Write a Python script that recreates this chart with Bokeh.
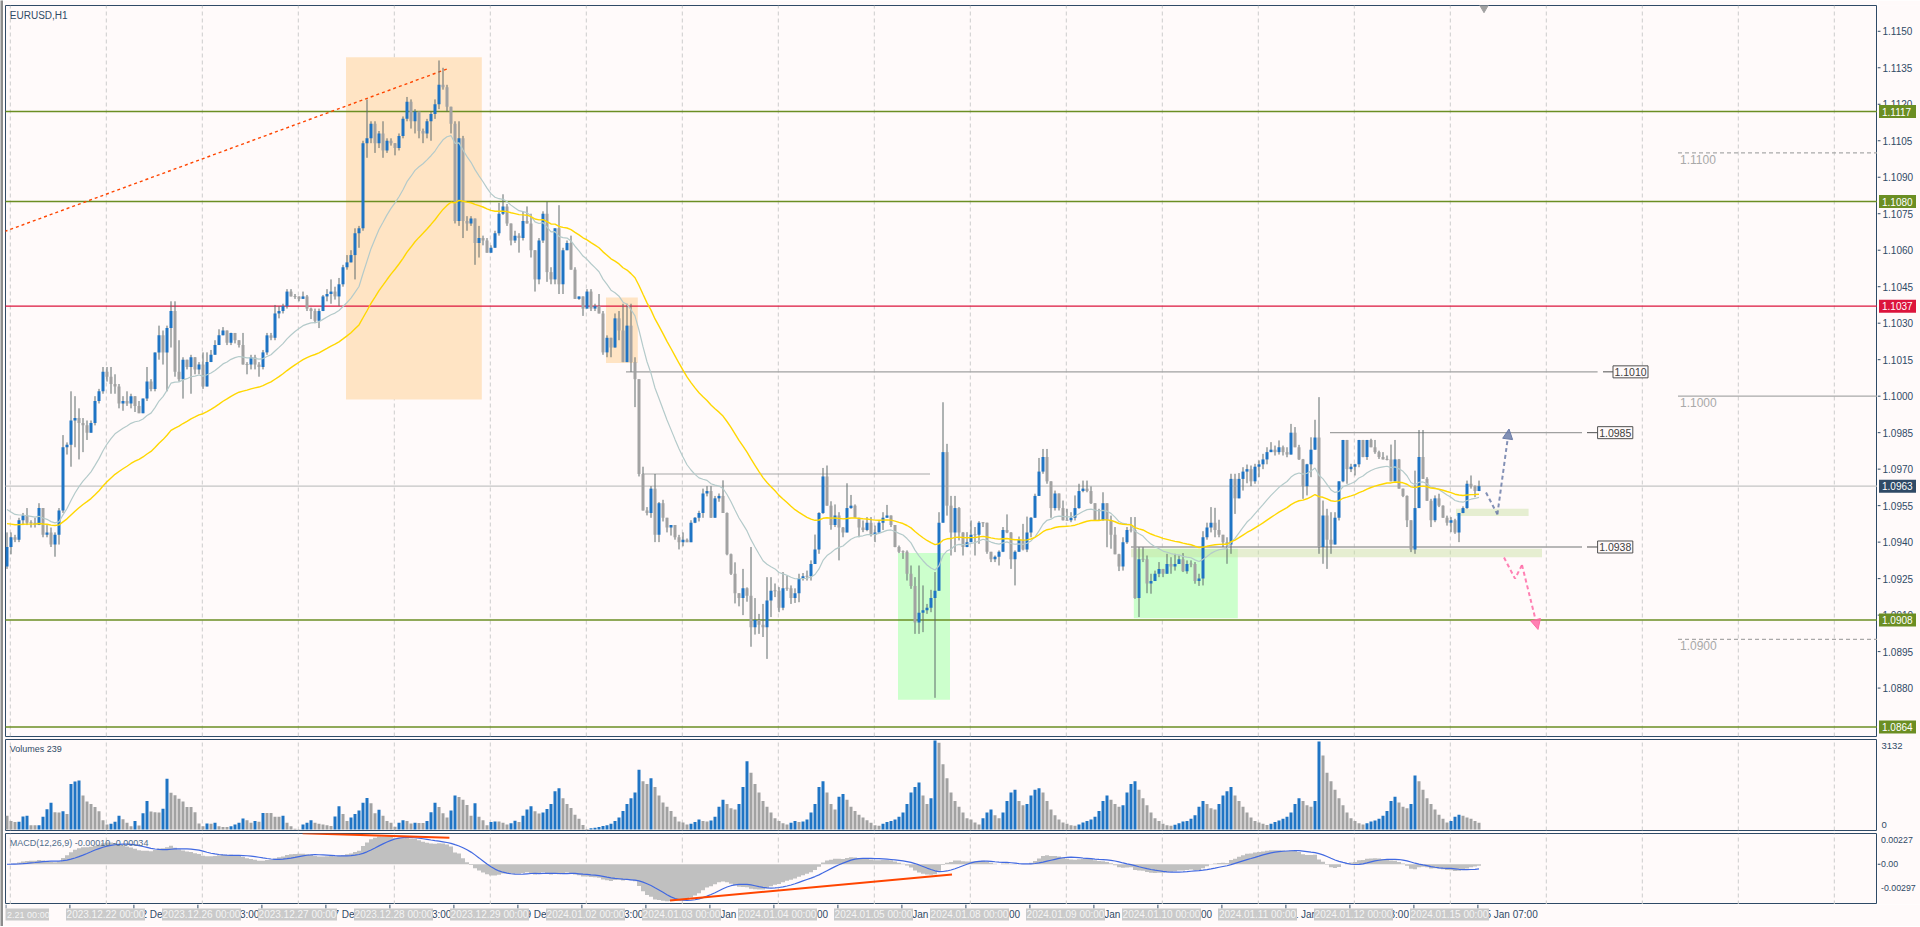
import numpy as np
from datetime import datetime, timedelta
from bokeh.plotting import figure
from bokeh.layouts import column, row
from bokeh.models import Range1d, Arrow, NormalHead
from bokeh.core.properties import value
from bokeh.embed import file_html
from bokeh.resources import INLINE

# ---------------------------------------------------------------- data
TITLE = "EURUSD,H1"
VOL_TITLE = "Volumes 239"
MACD_TITLE = "MACD(12,26,9) -0.00010 -0.00034"
FIRST_BAR_TIME = "2023-12-20 23:00"
TRADING_DAYS = ["2023-12-21", "2023-12-22", "2023-12-26", "2023-12-27", "2023-12-28",
                "2023-12-29", "2024-01-02", "2024-01-03", "2024-01-04", "2024-01-05",
                "2024-01-08", "2024-01-09", "2024-01-10", "2024-01-11", "2024-01-12",
                "2024-01-15"]
DAY_TAGS = ["2.21 00:00", "2023.12.22 00:00", "2023.12.26 00:00", "2023.12.27 00:00",
            "2023.12.28 00:00", "2023.12.29 00:00", "2024.01.02 00:00", "2024.01.03 00:00",
            "2024.01.04 00:00", "2024.01.05 00:00", "2024.01.08 00:00", "2024.01.09 00:00",
            "2024.01.10 00:00", "2024.01.11 00:00", "2024.01.12 00:00", "2024.01.15 00:00"]

# prices in points: price = 1 + pts / 10000
OPEN0 = 930
CLOSE = [
    938, 942, 941, 949, 951, 948, 948, 947, 954, 943,
    944, 939, 943, 953, 979, 980, 990, 991, 989, 988,
    985, 989, 998, 1002, 1010, 1008, 1005, 1004, 997, 998,
    997, 1000, 996, 993, 999, 1006, 1003, 1018, 1025, 1018,
    1028, 1035, 1010, 1007, 1015, 1012, 1016, 1011, 1013, 1004,
    1014, 1017, 1021, 1025, 1027, 1022, 1026, 1023, 1021, 1013,
    1013, 1016, 1013, 1012, 1018, 1025, 1024, 1034, 1035, 1037,
    1043, 1041, 1041, 1040, 1041, 1036, 1035, 1031, 1035, 1041,
    1042, 1043, 1041, 1046, 1053, 1055, 1058, 1067, 1069,
    1104, 1106, 1112, 1104, 1108, 1101, 1105, 1104, 1102, 1107,
    1114, 1121, 1113, 1117, 1109, 1108, 1113, 1116, 1120, 1128,
    1127, 1119, 1112, 1072, 1106, 1072, 1071,
    1073, 1063, 1065, 1064, 1059, 1061, 1067, 1075, 1078, 1071,
    1064, 1066, 1065, 1072, 1071, 1060, 1048, 1064, 1075, 1051,
    1048, 1069, 1046, 1060, 1063, 1052, 1040, 1041, 1036, 1043,
    1036, 1037, 1034, 1018, 1024, 1020, 1032, 1027, 1014, 1029,
    1014, 1007, 968, 953, 952, 962, 943, 956, 950, 946,
    947, 942, 940, 941, 940, 948, 950, 952, 960, 961,
    950, 958, 959, 952, 935, 927, 919, 917, 921, 918,
    905,
    908, 906, 905, 916, 920, 920, 913, 921, 921, 917,
    919, 925, 926, 926, 931, 937, 952, 967, 955, 947,
    951, 946, 944, 954, 955, 950, 946, 945, 948, 943,
    944, 948, 950, 951, 947, 938, 936, 936, 927, 922,
    907, 911, 912, 913, 917, 920, 948, 977, 955, 944,
    954, 944, 938, 940, 943, 943, 948, 948, 936, 933,
    934, 936, 945, 944, 933, 936, 941, 937, 944, 950,
    959, 969, 975, 965, 954, 960, 954, 949, 949, 950,
    954, 961, 962, 961, 956, 949, 949, 956, 949, 943,
    935, 930,
    940, 945, 945, 917, 933, 933, 923, 924, 927, 929,
    927, 931, 930, 931, 933, 928, 931, 931, 924, 925,
    942, 946, 948, 945, 943, 940, 939, 966, 958, 966,
    969, 970, 965, 971, 972, 974, 977, 978, 977, 979,
    977, 976, 985, 979, 974, 963, 972, 978, 983, 938,
    951, 941, 939, 950, 965, 982, 970, 971, 972, 982,
    975, 982, 979, 977, 975, 974, 974, 965, 974, 962,
    959, 949, 937, 954, 975, 966, 957, 949, 958, 955,
    950, 948, 949, 944, 952, 954, 964, 963, 961, 963]
HIGH = [
    944, 944, 943, 950, 952, 954, 949, 950, 956, 954,
    947, 946, 944, 954, 984, 981, 1002, 1000, 995, 991,
    990, 990, 1000, 1003, 1012, 1012, 1012, 1009, 1005, 1000,
    1002, 1001, 1000, 998, 999, 1012, 1007, 1018, 1029, 1027,
    1029, 1039, 1039, 1023, 1016, 1015, 1017, 1015, 1014, 1018,
    1018, 1019, 1023, 1027.5, 1028.4, 1027, 1026.1, 1025, 1023, 1026,
    1014, 1017, 1017, 1014, 1019, 1026, 1026, 1037.5, 1037, 1038,
    1044, 1044, 1042, 1041, 1043, 1041.6, 1036.4, 1036, 1036, 1041.6,
    1044, 1048, 1045, 1048.6, 1054, 1058, 1060, 1069, 1070,
    1105, 1122, 1113, 1113, 1109, 1113, 1106, 1106, 1104, 1108,
    1115, 1123, 1122, 1118, 1117, 1110, 1114, 1117, 1122, 1138,
    1135, 1128, 1119, 1113, 1113, 1107, 1074,
    1074, 1073, 1070, 1066, 1065, 1062, 1068, 1079.5, 1083, 1079,
    1071, 1068, 1067, 1076, 1078, 1075, 1060, 1065, 1076, 1080,
    1053, 1069, 1078.5, 1061, 1064, 1066, 1053, 1041, 1041, 1044,
    1044, 1038, 1042, 1035, 1025, 1023, 1034, 1035, 1038, 1038,
    1038, 1016, 1007, 971, 954.4, 963, 968, 956.5, 957.4, 950,
    947, 945.6, 943, 944, 941.5, 949, 950.3, 952.9, 962, 963,
    963, 959, 960, 965.4, 952.2, 935.3, 931.7, 918.4, 929, 921.4,
    938,
    917, 910.5, 914.6, 925.6, 925.6, 923, 921.5, 927.7, 926.3, 922.2,
    921, 927, 927.3, 928.3, 932.5, 943.1, 952.3, 970.5, 971.5, 956.8,
    955.5, 952.3, 946.2, 964.2, 959.4, 955.5, 950, 948.9, 950.3, 950.3,
    946.8, 948.6, 952.3, 955.3, 950.9, 946.4, 938.6, 936.6, 936.6, 930.4,
    925.6, 930.4, 922.2, 914.6, 920.4, 927.7, 952.3, 997.5, 980.4, 959,
    959, 954.4, 944.1, 944.1, 948.9, 946.2, 948.6, 948.2, 947.5, 935.9,
    934.5, 936.6, 946.2, 951.4, 944.1, 936.6, 942.3, 947.5, 950.5, 950.3,
    959.9, 974.6, 978.3, 978.3, 964.9, 961.2, 959.9, 957.1, 953.7, 952.3,
    959.2, 964, 965.3, 965.3, 962.9, 955.7, 953.7, 960.5, 955.7, 950.9,
    946.2, 935.2,
    942, 946.2, 950.3, 950.3, 937.9, 937.9, 934.5, 927, 928.3, 931.8,
    928.3, 935.2, 933.8, 935.2, 934.5, 935.5, 932.5, 932.5, 931.8, 927,
    944.5, 948, 954.4, 954.1, 949.2, 943, 942, 968.1, 968.1, 968.4,
    970.8, 971.9, 971.5, 972.2, 973.6, 976.3, 979, 981.1, 979.7, 981.8,
    979.7, 979, 988.6, 987.3, 980, 974.2, 972.2, 983.1, 990.3, 999.6,
    957.1, 953.7, 952.3, 952.3, 964.6, 982, 982, 972.2, 972.2, 982,
    982, 982, 982.5, 982, 977.6, 977, 975.6, 980.1, 982, 974.2,
    961.9, 959.2, 948.6, 969.4, 986.1, 986.1, 966.7, 957.8, 959.2, 959.9,
    955.1, 950.9, 950.3, 949.6, 951.9, 954.7, 965.3, 967.4, 963.3, 965.3]
LOW = [
    929, 935, 940, 940, 947, 947, 946, 946, 947, 942,
    942, 938, 934, 939, 952, 976, 971, 979, 974, 977,
    982, 985, 988, 997, 1001, 1006, 1001, 1001, 995, 994,
    996, 995, 993.5, 993, 996, 998, 1002, 1002, 1015, 1013,
    1002, 1020, 1008, 1006, 999, 1011, 1001, 1009, 1009, 1003,
    1004, 1016, 1017, 1022, 1025, 1021, 1021, 1021.7, 1020, 1013,
    1009, 1011, 1011, 1008, 1011, 1017, 1023, 1023, 1032, 1034,
    1036, 1041, 1040, 1039, 1040.8, 1035, 1031.7, 1030, 1028, 1036,
    1039, 1038, 1039.7, 1037, 1045, 1052, 1055, 1048, 1061,
    1068, 1098, 1104, 1100, 1102, 1098, 1100, 1103, 1099, 1101,
    1106, 1113, 1110, 1108, 1106, 1104, 1106, 1105, 1114, 1118,
    1126, 1117, 1108, 1071, 1070, 1065, 1068,
    1070, 1054, 1057, 1062, 1059, 1059, 1061, 1066, 1074.5, 1070,
    1062, 1063, 1059, 1064, 1071, 1057, 1043, 1046, 1063, 1047,
    1046, 1046, 1042, 1042, 1060, 1052, 1040, 1039.6, 1033, 1036,
    1035, 1035, 1034, 1017, 1016, 1016, 1020, 1023, 1014, 1014,
    1010, 995.5, 967, 953, 951, 950, 940, 940, 948.5, 944,
    942.7, 941, 937, 938.3, 940, 940, 947.8, 948.5, 950, 958.8,
    950, 950, 956.6, 952, 934.6, 926.5, 914.8, 913.6, 910, 915.5,
    897,
    902, 902.3, 901, 892, 909.2, 917.4, 911.2, 912, 920, 914.6,
    915, 915.3, 924.2, 924.2, 924.2, 931.1, 935.2, 951.6, 955, 945.1,
    946.2, 932.5, 942, 944.1, 953.7, 950, 942, 944.1, 944.5, 942.3,
    940, 944.1, 945, 950, 946.2, 937.9, 935.5, 933.1, 924.2, 920.8,
    902.3, 902.3, 903, 910.5, 911.2, 876, 920.8, 948, 950.9, 934.5,
    935.9, 940.7, 934.5, 937.9, 940.7, 934.5, 939.3, 946.2, 935.2, 931.8,
    931.8, 930.4, 935.9, 943.7, 929, 922.2, 936.6, 936.6, 935.9, 942,
    950.3, 959.2, 968.1, 964, 950, 953, 953, 948.9, 948.9, 948.2,
    948.9, 953.7, 960.5, 960.5, 955.7, 948.9, 948.9, 948.9, 937.9, 937.3,
    935.2, 928.1,
    928.3, 939.3, 944, 916.7, 909.2, 931.8, 919, 918.8, 924.2, 925.6,
    925.6, 927, 927, 928.3, 931.8, 927.7, 927, 929.7, 922.9, 922,
    922.2, 941, 944, 942, 942, 938, 931.1, 935.2, 951.6, 958.2,
    961.2, 964.2, 963, 964, 966.7, 970, 972, 977, 975.6, 976,
    975.6, 974.9, 976, 979, 973.8, 957.8, 959.2, 966.7, 978.3, 935.2,
    931.1, 929, 935.2, 942, 948.9, 964.6, 964, 968.8, 967.4, 970.8,
    974.9, 973.8, 979, 976.3, 974.2, 974.2, 973.6, 965, 965, 962.3,
    958.5, 946.2, 935.9, 935.2, 954, 966, 957.1, 946.2, 948.2, 954.4,
    950, 946.8, 944.1, 943.4, 940, 951.9, 953.7, 962, 958.5, 962.6]
VOLUME = [
    485, 298, 261, 274, 460, 485, 149, 149, 150, 448,
    709, 945, 609, 600, 646, 547, 1604, 1691, 1728, 1193,
    982, 895, 796, 646, 323, 174, 199, 274, 485, 361,
    236, 112, 298, 137, 572, 1007, 634, 609, 600, 734,
    1790, 1293, 1206, 1082, 982, 796, 790, 609, 211, 112,
    211, 205, 236, 112, 87, 85, 112, 174, 236, 385,
    323, 236, 298, 274, 584, 584, 580, 448, 445, 485,
    236, 112, 25, 10, 174, 236, 323, 236, 199, 174,
    149, 124, 460, 820, 547, 298, 423, 547, 671, 945,
    1107, 920, 572, 696, 485, 298, 236, 100, 236, 323,
    298, 211, 236, 230, 225, 298, 609, 945, 796, 572,
    423, 671, 1193, 1144, 1045, 858, 485, 920, 448, 323,
    149, 261, 286, 280,
    240, 180, 220, 310, 260, 480, 700, 820, 640, 560, 600, 720, 900, 1350, 1450, 1100,
    900, 760, 520, 380, 160,
    20, 40, 60, 90, 120, 150, 200, 300, 420, 650, 900, 1100, 1300, 2100, 1700, 1600,
    1800, 1500, 1200, 950, 800, 650, 450, 280,
    250, 180, 200, 260, 350, 300, 280, 320, 450, 800, 1050, 900, 750, 700, 900, 1500,
    2400, 2000, 1600, 1300, 1000, 800, 600, 400,
    300, 220, 180, 240, 300, 260, 280, 350, 600, 900, 1500, 1700, 1300, 900, 700, 1150,
    1250, 1050, 800, 650, 520, 420, 330, 240,
    150, 130, 200, 260, 300, 350, 450, 600, 900, 1300, 1500, 1650, 1200, 900, 1100, 3132,
    3050, 2300, 1800, 1300, 1000, 800, 600, 400,
    350, 250, 180, 400, 600, 700, 500, 400, 600, 1000, 1300, 1400, 1000, 850, 900, 1200,
    1400, 1450, 1300, 1000, 700, 500, 350, 250,
    200, 150, 130, 180, 250, 300, 350, 450, 650, 1000, 1200, 1050, 900, 800, 850, 1300,
    1600, 1700, 1400, 1100, 850, 600, 400, 300,
    200, 150, 130, 170, 220, 280, 300, 380, 500, 800, 1000, 900, 750, 700, 900, 1200,
    1350, 1500, 1200, 1000, 800, 600, 420, 300,
    250, 200, 160, 200, 260, 320, 380, 450, 600, 900, 1100, 1000, 850, 800, 1000, 3100,
    2600, 2000, 1700, 1400, 1100, 850, 600, 400,
    300, 220, 180, 220, 280, 320, 380, 480, 650, 1000, 1150, 950, 800, 750, 900, 1900,
    1700, 1400, 1100, 900, 700, 520, 380, 250,
    300, 450, 520, 480, 420, 380, 300, 239]

MA_FAST_PERIOD, MA_SLOW_PERIOD = 21, 50          # exponential moving averages
MA_FAST_START, MA_SLOW_START = 1.0955, 1.0948    # values read at the first bar

GREEN_LEVELS = [1.1117, 1.1080, 1.0908, 1.0864]
RED_LEVEL = 1.1037
LAST_PRICE = 1.0963
AXIS_TICKS = [1.0880 + 0.0015 * k for k in range(19)]
MARKED_LEVELS = [1.1010, 1.0985, 1.0938]
ROUND_LEVELS = [1.1100, 1.1000, 1.0900]
SIDE_LEVEL = 1.0968
VOL_AXIS = [3132, 0]
MACD_AXIS = [0.00227, 0.0, -0.00297]

# ---------------------------------------------------------------- styles / layout
FONT = "Liberation Sans"
BG = "#FFFAFA"
FRAME = "#2F4A66"
TXT = "#2F4A66"
BULL = "#1F74C4"
BEAR = "#A2A2A2"
WICK = "#5E6A6A"
GRID = "#CCCCCC"
OLIVE = "#6B8E23"
CRIMSON = "#DC143C"
CURTAG = "#2F4A66"
ORANGE = "#FF4500"

N = len(CLOSE)
W_LEFT = 3
PAD_L = 2
W_FRAME, W_AXIS = 1872, 43
TOP = 5
H_MAIN, H_VOL, H_MACD, H_X = 731, 91, 71, 22
GAP = 3
XS = -0.375
XE = XS + W_FRAME / 4.0
YTOP, YBOT = 1.11606, 1.08601
DPM = (YTOP - YBOT) / H_MAIN
VTOP, VBOT = 3167, -35
DPV = (VTOP - VBOT) / H_VOL
MTOP, MBOT = 0.00227, -0.00297
DPD = (MTOP - MBOT) / H_MACD

t0 = datetime.strptime(FIRST_BAR_TIME, "%Y-%m-%d %H:%M")


def bar_time(i):
    if i == 0:
        return t0
    d, h = divmod(i - 1, 24)
    return datetime.strptime(TRADING_DAYS[d], "%Y-%m-%d") + timedelta(hours=h)


def mt4_label(t):
    if t.hour == 0:
        return f"{t.day} {t.strftime('%b')} {t.year}"
    return f"{t.day} {t.strftime('%b')} {t.strftime('%H:%M')}"


def pr(a):
    return 1.0 + np.asarray(a, dtype=float) / 10000.0


x = np.arange(N, dtype=float)
c = pr(CLOSE)
o = pr([OPEN0] + CLOSE[:-1])
hi = np.maximum(pr(HIGH), np.maximum(o, c))
lo = np.minimum(pr(LOW), np.minimum(o, c))
btop = np.maximum(o, c)
bbot = np.minimum(o, c)
small = (btop - bbot) < DPM
mid = (btop + bbot) / 2
btop = np.where(small, mid + DPM * 0.5, btop)
bbot = np.where(small, mid - DPM * 0.5, bbot)
ccol = [BULL if c[i] > o[i] else BEAR for i in range(N)]


def ema(arr, n, seed=None):
    k = 2.0 / (n + 1)
    out = np.empty_like(arr)
    prev = arr[0] if seed is None else seed
    for i in range(len(arr)):
        prev = k * arr[i] + (1 - k) * prev
        out[i] = prev
    return out


def sma_padded(arr, n, start):
    a = np.concatenate([np.full(n - 1, start), arr])
    return np.convolve(a, np.ones(n) / n, mode="valid")


ma_fast = ema(c, MA_FAST_PERIOD, MA_FAST_START)
ma_slow = ema(c, MA_SLOW_PERIOD, MA_SLOW_START)
macd = ema(c, 12) - ema(c, 26)
signal = sma_padded(macd, 9, 0.0)
vol = np.array(VOLUME, dtype=float)
vcol = [BEAR] + [BULL if vol[i] > vol[i - 1] else BEAR for i in range(1, N)]


def mk(w, h, xr, yr, left=0, top=0, bottom=0, outline=True, bg=BG):
    f = figure(width=w, height=h, x_range=xr, y_range=yr, output_backend="svg",
               toolbar_location=None, tools="", x_axis_location=None, y_axis_location=None,
               min_border_left=left, min_border_right=0, min_border_top=top,
               min_border_bottom=bottom)
    f.grid.visible = False
    f.background_fill_color = bg
    f.border_fill_color = bg
    f.outline_line_color = FRAME if outline else None
    f.outline_line_width = 1
    return f


def txt(f, xs, ys, texts, size="9px", color=TXT, align="left", baseline="middle"):
    f.text(x=list(xs), y=list(ys), text=list(texts), text_font=value(FONT),
           text_font_size=size, text_color=color, text_align=align, text_baseline=baseline)


xr = Range1d(XS, XE)
grid_x = [0.825 + 24 * k for k in range(20)]

# ---------------------------------------------------------------- main panel
main = mk(PAD_L + W_FRAME, TOP + H_MAIN + GAP, xr, Range1d(YBOT, YTOP),
          left=PAD_L, top=TOP, bottom=GAP)
for gx in grid_x:
    main.segment(x0=gx, y0=YBOT, x1=gx, y1=YTOP, line_color=GRID, line_dash="4 3", line_width=1)

main.quad(left=[84.75, 149.75], right=[118.7, 157.7], bottom=[1.09986, 1.10136],
          top=[1.11393, 1.10406], fill_color="#FFE4C4", line_color=None)
main.quad(left=[222.75, 281.7], right=[235.75, 307.7], bottom=[1.08752, 1.09087],
          top=[1.09355, 1.09373], fill_color="#CCFFCC", line_color=None)
main.quad(left=[281.0, 362.25], right=[383.75, 380.4], bottom=[1.09338, 1.09507],
          top=[1.09373, 1.09537], fill_color="#C8E0A0", fill_alpha=0.45, line_color=None)

for lv in GREEN_LEVELS:
    main.segment(x0=XS - 5, y0=lv, x1=XE + 5, y1=lv, line_color=OLIVE, line_width=1.4)
main.segment(x0=XS - 5, y0=RED_LEVEL, x1=XE + 5, y1=RED_LEVEL, line_color=CRIMSON, line_width=1.4)
main.segment(x0=XS - 5, y0=LAST_PRICE, x1=XE + 5, y1=LAST_PRICE, line_color="#C4C4C4", line_width=1.2)
main.segment(x0=158.9, y0=SIDE_LEVEL, x1=230.75, y1=SIDE_LEVEL, line_color="#A8A8A8", line_width=1.2)

m_start = [154.75, 330.75, 281.0]
m_end = [397.65, 393.75, 393.75]
m_tick = [(399.0, 401.5), (395.0, 397.65), (395.0, 397.65)]
m_box = [(401.5, 410.25), (397.65, 406.45), (397.65, 406.45)]
for lv, s, e, tk, bx in zip(MARKED_LEVELS, m_start, m_end, m_tick, m_box):
    main.segment(x0=s, y0=lv, x1=e, y1=lv, line_color="#A0A0A0", line_width=1.3)
    main.segment(x0=tk[0], y0=lv, x1=tk[1], y1=lv, line_color="#505050", line_width=1)
    main.quad(left=bx[0], right=bx[1], bottom=lv - 6 * DPM, top=lv + 6 * DPM,
              fill_color=BG, line_color="#505050", line_width=1)
    txt(main, [(bx[0] + bx[1]) / 2], [lv], [f"{lv:.4f}"], size="10.5px", color="#404040",
        align="center")

for lv in ROUND_LEVELS:
    dash = "solid" if abs(lv - 1.1) < 1e-9 else "4 3"
    main.segment(x0=417.75, y0=lv, x1=XE + 5, y1=lv, line_color="#A9A9A9",
                 line_width=1.2, line_dash=dash)
    txt(main, [418.25], [lv - 2 * DPM], [f"{lv:.4f}"], size="12px", color="#A9A9A9",
        baseline="top")

tl_x = [-0.25, 110.0]
tl_y = [1.10679, 1.11345]
sl = (tl_y[1] - tl_y[0]) / (tl_x[1] - tl_x[0])
main.line([-2, 110.0], [tl_y[0] + sl * (-2 - tl_x[0]), tl_y[1]], line_color=ORANGE,
          line_width=1.4, line_dash="3 3")

main.segment(x0=x, y0=lo, x1=x, y1=hi, line_color=WICK, line_width=1)
main.vbar(x=x, width=0.75, top=btop, bottom=bbot, fill_color=ccol, line_color=None)

main.line(x, ma_fast, line_color="#B4CACA", line_width=1.2)
main.line(x, ma_slow, line_color="#FFD700", line_width=1.4)

blue_x = [369.75, 372.6, 375.5]
blue_y = [1.09604, 1.09514, 1.09865]
pink_x = [374.25, 377.0, 378.75, 382.75]
pink_y = [1.09337, 1.09250, 1.09306, 1.09041]
AB, AP = "#6C7CA8", "#FF6AA6"
main.line(blue_x[:2], blue_y[:2], line_color=AB, line_width=2, line_dash="4 3", line_alpha=0.85)
main.add_layout(Arrow(end=NormalHead(size=10, fill_color=AB, line_color=AB, fill_alpha=0.85),
                      x_start=blue_x[1], y_start=blue_y[1], x_end=blue_x[2], y_end=blue_y[2],
                      line_color=AB, line_width=2, line_dash="4 3", line_alpha=0.85))
main.line(pink_x[:3], pink_y[:3], line_color=AP, line_width=2, line_dash="4 3", line_alpha=0.85)
main.add_layout(Arrow(end=NormalHead(size=10, fill_color=AP, line_color=AP, fill_alpha=0.85),
                      x_start=pink_x[2], y_start=pink_y[2], x_end=pink_x[3], y_end=pink_y[3],
                      line_color=AP, line_width=2, line_dash="4 3", line_alpha=0.85))

main.scatter([369.25], [YTOP - 2 * DPM], marker="inverted_triangle", size=9,
             fill_color="#A0A0A0", line_color="#A0A0A0")
txt(main, [0.7], [YTOP - 4 * DPM], [TITLE], size="10px", baseline="top")

main_ax = mk(W_AXIS, TOP + H_MAIN + GAP, Range1d(0, W_AXIS), main.y_range,
             top=TOP, bottom=GAP, outline=False)
main_ax.segment(x0=[0] * len(AXIS_TICKS), y0=AXIS_TICKS, x1=[3] * len(AXIS_TICKS),
                y1=AXIS_TICKS, line_color=TXT, line_width=1)
txt(main_ax, [5] * len(AXIS_TICKS), AXIS_TICKS, [f"{t:.4f}" for t in AXIS_TICKS], size="10px")
tags = [(1.1117, OLIVE), (1.1080, OLIVE), (1.1037, CRIMSON), (LAST_PRICE, CURTAG),
        (1.0908, OLIVE), (1.0864, OLIVE)]
for lv, col in tags:
    main_ax.quad(left=1.5, right=38.5, bottom=lv - 6.5 * DPM, top=lv + 6.5 * DPM,
                 fill_color=col, line_color=None)
    txt(main_ax, [4.5], [lv], [f"{lv:.4f}"], color="white", size="10px")

# ---------------------------------------------------------------- volume panel
volf = mk(PAD_L + W_FRAME, H_VOL + GAP, xr, Range1d(VBOT, VTOP), left=PAD_L, bottom=GAP)
for gx in grid_x:
    volf.segment(x0=gx, y0=VBOT, x1=gx, y1=VTOP, line_color=GRID, line_dash="4 3", line_width=1)
volf.vbar(x=x, width=0.75, top=vol, bottom=0, fill_color=vcol, line_color=None)
txt(volf, [0.7], [VTOP - 4 * DPV], [VOL_TITLE], baseline="top")
vol_ax = mk(W_AXIS, H_VOL + GAP, Range1d(0, W_AXIS), volf.y_range, bottom=GAP, outline=False)
txt(vol_ax, [4, 4], [VTOP - 6.7 * DPV, VBOT + 6 * DPV], [str(VOL_AXIS[0]), str(VOL_AXIS[1])],
    size="9.5px")

# ---------------------------------------------------------------- MACD panel
macf = mk(PAD_L + W_FRAME, H_MACD, xr, Range1d(MBOT, MTOP), left=PAD_L)
for gx in grid_x:
    macf.segment(x0=gx, y0=MBOT, x1=gx, y1=MTOP, line_color=GRID, line_dash="4 3", line_width=1)
macf.vbar(x=x, width=1.0, top=macd, bottom=0, fill_color="#C0C0C0", line_color=None)
macf.line(x, signal, line_color="#4169E1", line_width=1.2)
macf.line([73.9, 110.6], [0.002295, 0.00196], line_color=ORANGE, line_width=2)
macf.line([165.75, 236.25], [-0.00267, -0.00075], line_color=ORANGE, line_width=2)
txt(macf, [0.7], [MTOP - 4.5 * DPD], [MACD_TITLE], color="#4F6D8C", baseline="top")
mac_ax = mk(W_AXIS, H_MACD, Range1d(0, W_AXIS), macf.y_range, outline=False)
mac_ax.segment(x0=[0], y0=[0.0], x1=[3], y1=[0.0], line_color=TXT)
txt(mac_ax, [3.5, 3.5, 3.5], [MTOP - 6 * DPD, 0.0, MTOP - 54.7 * DPD],
    [f"{MACD_AXIS[0]:.5f}", "0.00", f"{MACD_AXIS[2]:.5f}"], size="8.8px")

# ---------------------------------------------------------------- time strip
W_STRIP = PAD_L + W_FRAME + W_AXIS
xs_f = mk(W_STRIP, H_X, Range1d(XS, XS + (W_STRIP - PAD_L) / 4.0), Range1d(0, H_X),
          left=PAD_L, outline=False)
tick_bars = list(range(0, N, 16))
tx = [b - 0.275 for b in tick_bars]
xs_f.segment(x0=tx, y0=[H_X] * len(tx), x1=tx, y1=[H_X - 4] * len(tx), line_color=TXT)
txt(xs_f, [t + 0.5 for t in tx[1:]], [H_X - 10] * (len(tx) - 1),
    [mt4_label(bar_time(b)) for b in tick_bars[1:]], size="10px")
box_l = [-9.25 + 24 * k for k in range(len(DAY_TAGS))]
xs_f.quad(left=box_l, right=[b + 19.75 for b in box_l], top=[H_X - 4] * len(box_l),
          bottom=[H_X - 16] * len(box_l), fill_color="#CACACA", line_color=None)
txt(xs_f, [XS + 0.4], [H_X - 10], [DAY_TAGS[0]], color="#F4F4F4", size="9px")
txt(xs_f, [b + 19.75 / 2 for b in box_l[1:]], [H_X - 10] * (len(box_l) - 1), DAY_TAGS[1:],
    color="#F4F4F4", align="center", size="10px")

left_bar = mk(W_LEFT, TOP + H_MAIN + GAP + H_VOL + GAP + H_MACD + H_X, Range1d(0, 1),
              Range1d(0, 1), outline=False, bg="#8C8C8C")

layout = row(left_bar, column(row(main, main_ax), row(volf, vol_ax), row(macf, mac_ax), xs_f))
open("out.html", "w").write(file_html(layout, INLINE))
